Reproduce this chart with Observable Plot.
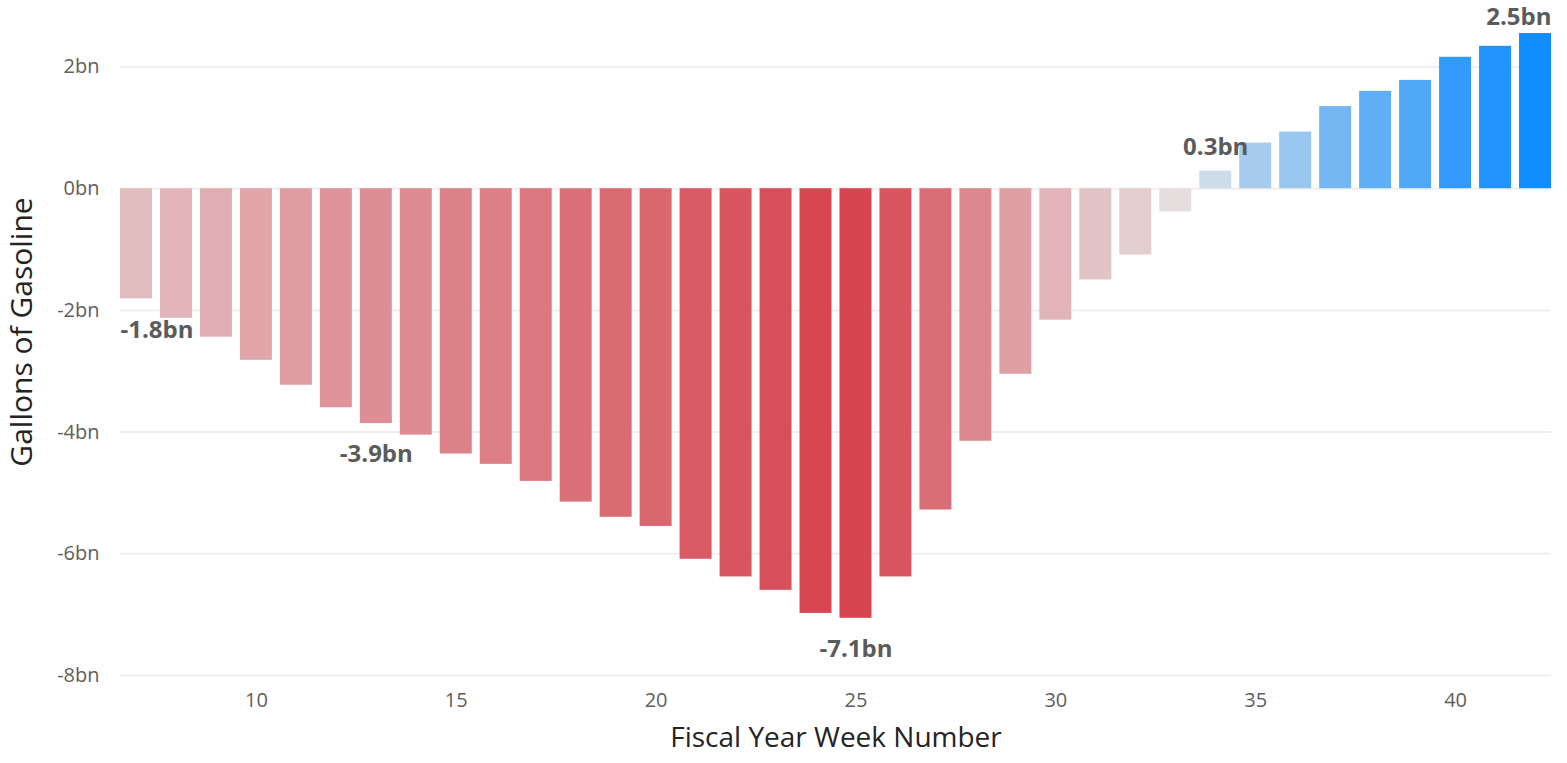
<!DOCTYPE html>
<html>
<head>
<meta charset="utf-8">
<script src="https://cdn.jsdelivr.net/npm/d3@7"></script>
<script src="https://cdn.jsdelivr.net/npm/@observablehq/plot@0.6"></script>
<style>
  html, body { margin: 0; padding: 0; background: #ffffff; }
  #chart svg { display: block; font-family: "Open Sans", "Noto Sans", sans-serif; }
</style>
</head>
<body>
<div id="chart"></div>
<script>
// ---- Data ----
const weeks = [7, 8, 9, 10, 11, 12, 13, 14, 15, 16, 17, 18, 19, 20, 21, 22, 23, 24,
               25, 26, 27, 28, 29, 30, 31, 32, 33, 34, 35, 36, 37, 38, 39, 40, 41, 42];
const gallonsBn = [-1.81, -2.13, -2.44, -2.82, -3.23, -3.60, -3.86, -4.05, -4.36, -4.53,
                   -4.81, -5.15, -5.40, -5.55, -6.09, -6.38, -6.60, -6.98, -7.06, -6.38,
                   -5.28, -4.15, -3.05, -2.16, -1.50, -1.09, -0.38, 0.29, 0.75, 0.93,
                   1.35, 1.60, 1.78, 2.16, 2.34, 2.55];
const xTicks = [10, 15, 20, 25, 30, 35, 40];
const yTicks = [-8, -6, -4, -2, 0, 2];
const labelWeeks = [7, 13, 25, 34, 42];
const labelTexts = ["-1.8bn", "-3.9bn", "-7.1bn", "0.3bn", "2.5bn"];
const xTitle = "Fiscal Year Week Number";
const yTitle = "Gallons of Gasoline";

const rows = weeks.map((w, i) => ({week: w, value: gallonsBn[i]}));
const labels = labelWeeks.map((w, i) => ({week: w, value: gallonsBn[weeks.indexOf(w)], text: labelTexts[i]}));
const firstWeek = weeks[0], lastWeek = weeks[weeks.length - 1];
const negMid = labels.filter(d => d.value < 0 && d.week !== firstWeek);
const negFirst = labels.filter(d => d.week === firstWeek);
const posMid = labels.filter(d => d.value >= 0 && d.week !== lastWeek);
const posLast = labels.filter(d => d.week === lastWeek);

const labelStyle = {x: "week", y: "value", text: "text", fontSize: 24, fontWeight: "bold", fill: "#5b5b5b", lineAnchor: "middle"};

const chart = Plot.plot({
  width: 1567,
  height: 763,
  marginLeft: 120,
  marginRight: 16,
  marginTop: 30,
  marginBottom: 88,
  style: {fontFamily: "'Open Sans', 'Noto Sans', sans-serif", background: "#ffffff"},
  x: {type: "band", domain: weeks, paddingInner: 0.2, paddingOuter: 0, align: 0.5},
  y: {domain: [-8, 2.6]},
  color: {type: "linear", domain: [d3.min(gallonsBn), 0, d3.max(gallonsBn)],
          range: ["#D64550", "#E6E6E6", "#118DFF"], interpolate: "rgb"},
  marks: [
    Plot.gridY(yTicks, {stroke: "#efefef", strokeOpacity: 1, strokeWidth: 2}),
    Plot.barY(rows, {x: "week", y: "value", fill: "value"}),
    Plot.axisY(yTicks, {tickSize: 0, tickPadding: 21, fontSize: 20, fill: "#605E5C",
                        tickFormat: d => d + "bn", label: null}),
    Plot.axisX(xTicks, {tickSize: 0, tickPadding: 17, fontSize: 20, fill: "#605E5C", label: null}),
    Plot.text([xTitle], {frameAnchor: "bottom", dy: 63, fontSize: 28, fill: "#252423", lineAnchor: "middle", text: d => d}),
    Plot.text([yTitle], {frameAnchor: "left", rotate: -90, dx: -98, dy: -21, fontSize: 30, fill: "#252423",
                         textAnchor: "middle", lineAnchor: "middle", text: d => d}),
    Plot.text(negMid, {...labelStyle, dy: 31}),
    Plot.text(negFirst, {...labelStyle, dy: 31, textAnchor: "start", dx: -16}),
    Plot.text(posMid, {...labelStyle, dy: -24}),
    Plot.text(posLast, {...labelStyle, dy: -16, textAnchor: "end", dx: 16})
  ]
});
document.getElementById("chart").append(chart);
</script>
</body>
</html>
